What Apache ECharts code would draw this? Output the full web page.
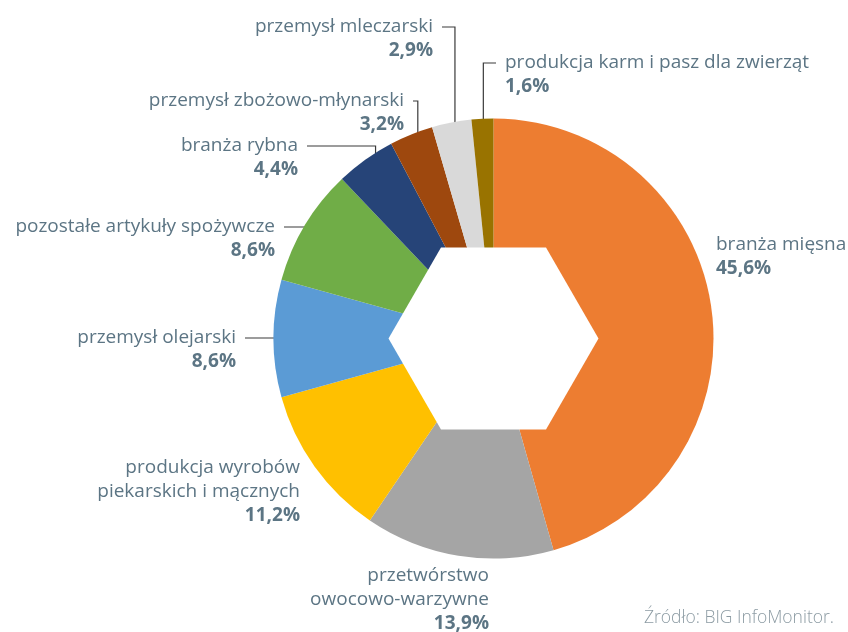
<!DOCTYPE html>
<html>
<head>
<meta charset="utf-8">
<script src="https://cdn.jsdelivr.net/npm/echarts@6/dist/echarts.min.js"></script>
<style>
  html, body { margin: 0; background: #fff; }
  #chart { width: 848px; height: 632px; }
</style>
</head>
<body>
<div id="chart"></div>
<script>
const categories = [
  'branża mięsna',
  'przetwórstwo\nowocowo-warzywne',
  'produkcja wyrobów\npiekarskich i mącznych',
  'przemysł olejarski',
  'pozostałe artykuły spożywcze',
  'branża rybna',
  'przemysł zbożowo-młynarski',
  'przemysł mleczarski',
  'produkcja karm i pasz dla zwierząt'
]
const shares = [45.6, 13.9, 11.2, 8.6, 8.6, 4.4, 3.2, 2.9, 1.6]
const COLORS = ['#ED7D31', '#A5A5A5', '#FFC000', '#5B9BD5', '#70AD47', '#264478', '#9E480E', '#D9D9D9', '#997300']

// label placement: [x, top y, align, leader] leader: 0 none, 1 flat, 2 elbow
const labelPos = [
  [716, 233, 'left', 0],
  [489, 564, 'right', 0],
  [300, 456, 'right', 0],
  [236, 326, 'right', 1],
  [275, 215, 'right', 1],
  [298, 134, 'right', 2],
  [404, 89, 'right', 2],
  [433, 15, 'right', 2],
  [505, 51, 'left', 2]
]

const CX = 493.5, CY = 338.5, R = 220
const TXT = '#5c7584'
const FONT = 'Open Sans'

const fmt = v => v.toFixed(1).replace('.', ',') + '%'

// mid angle of every slice (clockwise from top)
const total = shares.reduce((a, b) => a + b, 0)
let acc = 0
const midAngles = shares.map(v => {
  const a = (acc + v / 2) / total * Math.PI * 2
  acc += v
  return a
})

function anchor(i, k) {
  const a = midAngles[i]
  return [CX + Math.sin(a) * R * k, CY - Math.cos(a) * R * k]
}

const chart = echarts.init(document.getElementById('chart'), null, { renderer: 'canvas' })

const hexW = 105, hexH = hexW * Math.sin(Math.PI / 3)

chart.setOption({
  backgroundColor: '#fff',
  animation: false,
  color: COLORS,
  graphic: [
    {
      type: 'polygon',
      z: 100,
      silent: true,
      shape: {
        points: [
          [CX - hexW, CY], [CX - hexW / 2, CY - hexH], [CX + hexW / 2, CY - hexH],
          [CX + hexW, CY], [CX + hexW / 2, CY + hexH], [CX - hexW / 2, CY + hexH]
        ]
      },
      style: { fill: '#fff' }
    },
    {
      type: 'text',
      right: 14,
      bottom: 5,
      silent: true,
      style: { text: 'Źródło: BIG InfoMonitor.', fill: '#8c9ba3', font: '300 17.5px "Open Sans"' }
    }
  ],
  series: [{
    type: 'pie',
    center: [CX, CY],
    radius: [0, R],
    startAngle: 90,
    clockwise: true,
    avoidLabelOverlap: false,
    silent: true,
    itemStyle: { borderWidth: 0 },
    label: {
      show: true,
      position: 'outside',
      formatter: p => '{n|' + p.name + '}\n{v|' + fmt(p.value) + '}',
      rich: {
        n: { fontFamily: FONT, fontSize: 19, color: TXT, lineHeight: 24 },
        v: { fontFamily: FONT, fontSize: 19, fontWeight: 'bold', color: TXT, lineHeight: 24 }
      }
    },
    labelLine: { show: true, lineStyle: { color: '#3a3a3a', width: 1.2 } },
    labelLayout: p => {
      const [x, y, align, leader] = labelPos[p.dataIndex]
      const out = { x, y, align, verticalAlign: 'top' }
      if (leader) {
        const ly = y + 12
        const sx = align === 'right' ? x + 9 : x - 9
        if (leader === 1) {
          const [ax] = anchor(p.dataIndex, 0.8)
          out.labelLinePoints = [[sx, ly], [(sx + ax) / 2, ly], [ax, ly]]
        } else {
          const [ax, ay] = anchor(p.dataIndex, 0.92)
          out.labelLinePoints = [[sx, ly], [ax, ly], [ax, ay]]
        }
      }
      return out
    },
    data: categories.map((name, i) => ({
      name,
      value: shares[i],
      labelLine: { show: labelPos[i][3] > 0 }
    }))
  }]
})
</script>
</body>
</html>
